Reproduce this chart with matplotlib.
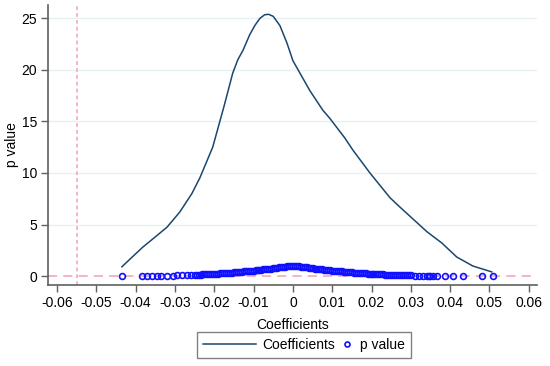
import matplotlib
matplotlib.use('Agg')
import matplotlib.pyplot as plt
from matplotlib.lines import Line2D
from matplotlib.legend_handler import HandlerLine2D

plt.rcParams['font.family'] = ['Liberation Sans', 'DejaVu Sans']

#-------------------------------------------------------------------------------
#DATA

#density curve of the placebo coefficients
coef_x = [-0.0435, -0.0410, -0.0382, -0.0350, -0.0320, -0.0288, -0.0257, -0.0237,
          -0.0204, -0.0175, -0.0153, -0.0140, -0.0127, -0.0110, -0.0097, -0.0084,
          -0.0072, -0.0062, -0.0050, -0.0033, -0.0015, 0.0, 0.0043, 0.0076, 0.0094,
          0.0112, 0.0132, 0.0153, 0.0196, 0.0247, 0.0272, 0.0341, 0.0379, 0.0417,
          0.0458, 0.0506]
coef_y = [0.9, 1.8, 2.8, 3.8, 4.75, 6.2, 8.0, 9.5,
          12.5, 16.5, 19.7, 21.0, 21.9, 23.4, 24.3, 25.0,
          25.35, 25.4, 25.2, 24.3, 22.6, 20.9, 18.0, 16.1, 15.3,
          14.4, 13.4, 12.2, 10.0, 7.6, 6.7, 4.3, 3.2, 1.84,
          0.97, 0.4]

#p values of each placebo coefficient
p_x = [-0.0435, -0.0384, -0.0372, -0.0359, -0.0346, -0.0336, -0.0320, -0.0305,
       -0.0295, -0.0283, -0.0270, -0.0260,
       -0.0250, -0.0245, -0.0240, -0.0235, -0.0230, -0.0225, -0.0220, -0.0215,
       -0.0210, -0.0205, -0.0200, -0.0195, -0.0190, -0.0185, -0.0180, -0.0175,
       -0.0170, -0.0165, -0.0160, -0.0155, -0.0150, -0.0145, -0.0140, -0.0135,
       -0.0130, -0.0125, -0.0120, -0.0115, -0.0110, -0.0105, -0.0100, -0.0095,
       -0.0090, -0.0085, -0.0080, -0.0075, -0.0070, -0.0065, -0.0060, -0.0055,
       -0.0050, -0.0045, -0.0040, -0.0035, -0.0030, -0.0025, -0.0020, -0.0015,
       -0.0010, -0.0005,
       0.0, 0.0005, 0.0010, 0.0015, 0.0020, 0.0025, 0.0030, 0.0035, 0.0040,
       0.0045, 0.0050, 0.0055, 0.0060, 0.0065, 0.0070, 0.0075, 0.0080, 0.0085,
       0.0090, 0.0095, 0.0100, 0.0105, 0.0110, 0.0115, 0.0120, 0.0125, 0.0130,
       0.0135, 0.0140, 0.0145, 0.0150, 0.0155, 0.0160, 0.0165, 0.0170, 0.0175,
       0.0180, 0.0185, 0.0190, 0.0195, 0.0200, 0.0205, 0.0210, 0.0215, 0.0220,
       0.0225, 0.0230, 0.0235, 0.0240, 0.0245, 0.0250, 0.0255, 0.0260, 0.0265,
       0.0270, 0.0275, 0.0280, 0.0285, 0.0290, 0.0295, 0.0300,
       0.0310, 0.0320, 0.0330, 0.0340, 0.0345, 0.0350, 0.0356, 0.0366, 0.0387,
       0.0407, 0.0433, 0.0481, 0.0509]
p_y = [0.00, 0.02, 0.02, 0.02, 0.03, 0.03, 0.05, 0.05,
       0.07, 0.08, 0.09, 0.10,
       0.12, 0.13, 0.13, 0.14, 0.15, 0.16, 0.17, 0.18,
       0.19, 0.20, 0.21, 0.22, 0.24, 0.25, 0.26, 0.27,
       0.29, 0.30, 0.32, 0.33, 0.35, 0.37, 0.38, 0.40,
       0.42, 0.44, 0.45, 0.47, 0.49, 0.51, 0.53, 0.55,
       0.57, 0.60, 0.62, 0.64, 0.66, 0.69, 0.71, 0.73,
       0.76, 0.78, 0.80, 0.83, 0.85, 0.88, 0.90, 0.93,
       0.95, 0.98,
       1.00, 0.98, 0.95, 0.93, 0.90, 0.88, 0.85, 0.83, 0.80,
       0.78, 0.76, 0.73, 0.71, 0.69, 0.66, 0.64, 0.62, 0.60,
       0.57, 0.55, 0.53, 0.51, 0.49, 0.47, 0.45, 0.44, 0.42,
       0.40, 0.38, 0.37, 0.35, 0.33, 0.32, 0.30, 0.29, 0.27,
       0.26, 0.25, 0.24, 0.22, 0.21, 0.20, 0.19, 0.18, 0.17,
       0.16, 0.15, 0.14, 0.13, 0.13, 0.12, 0.11, 0.10, 0.10,
       0.09, 0.09, 0.08, 0.08, 0.07, 0.07, 0.06,
       0.05, 0.05, 0.04, 0.03, 0.03, 0.03, 0.03, 0.02, 0.02,
       0.01, 0.01, 0.00, 0.00]

#true coefficient (reference line) and axis ticks
true_coef = -0.055
xticks = [-0.06, -0.05, -0.04, -0.03, -0.02, -0.01, 0, 0.01, 0.02, 0.03, 0.04, 0.05, 0.06]
xticklabels = ['-0.06', '-0.05', '-0.04', '-0.03', '-0.02', '-0.01', '0',
               '0.01', '0.02', '0.03', '0.04', '0.05', '0.06']
yticks = [0, 5, 10, 15, 20, 25]

#-------------------------------------------------------------------------------
#HELPERS

class MarkerAtRight(HandlerLine2D):
    #put the single legend marker at the right end of its handle box
    def get_xdata(self, legend, xdescent, ydescent, width, height, fontsize):
        x = [-xdescent + width - 9, -xdescent + width]
        return x, [x[0] + 4.5]

#-------------------------------------------------------------------------------
#PLOT

fig = plt.figure(figsize=(5.5, 3.66), dpi=100)
ax = fig.add_axes([48/550, 1 - 285/366, 489/550, 280/366])

ax.set_xlim(-0.0623, 0.0621)
ax.set_ylim(-0.87, 26.3)

#grid and reference lines
for yv in yticks[1:]:
    ax.axhline(yv, color='#e8f1f3', lw=1.0, zorder=0)
ax.axhline(0, color='#f0a0b0', lw=1.1, dashes=(6, 4), zorder=1)
ax.axvline(true_coef, color='#f4a0b4', lw=1.1, dashes=(2.5, 2), zorder=1)

#series
ax.plot(coef_x, coef_y, color='#1a476f', lw=1.1, zorder=3)
pts, = ax.plot(p_x, p_y, ls='none', marker='o', ms=4.2, mew=1.2,
               mfc='none', mec='#1010ff', zorder=2)

#axes styling
for s in ['top', 'right']:
    ax.spines[s].set_visible(False)
for s in ['left', 'bottom']:
    ax.spines[s].set_color('#606060')
    ax.spines[s].set_linewidth(1.2)
ax.set_xticks(xticks)
ax.set_xticklabels(xticklabels)
ax.set_yticks(yticks)
ax.tick_params(axis='both', colors='#606060', labelcolor='black',
               length=5, width=1.0, labelsize=10, pad=3)

ax.set_xlabel('Coefficients', fontsize=10)
ax.set_ylabel('p value', fontsize=10)
ax.xaxis.set_label_coords(0.5, -0.118)
ax.yaxis.set_label_coords(-0.06, 0.5)

#legend under the plot
handles = [Line2D([], [], color='#1a476f', lw=1.1),
           Line2D([], [], ls='none', marker='o', ms=3.6, mew=1.2, mfc='none', mec='#1010ff')]
leg = fig.legend(handles, ['Coefficients', 'p value'], loc='center',
                 bbox_to_anchor=(304/550, 1 - 345/366), ncol=2, fontsize=10,
                 fancybox=False, handlelength=3.8, handletextpad=0.43,
                 columnspacing=-2.45, borderpad=0.45,
                 handler_map={handles[1]: MarkerAtRight(numpoints=1)})
leg.get_frame().set_edgecolor('#606060')
leg.get_frame().set_linewidth(1.0)

fig.savefig('out.png', dpi=100)
